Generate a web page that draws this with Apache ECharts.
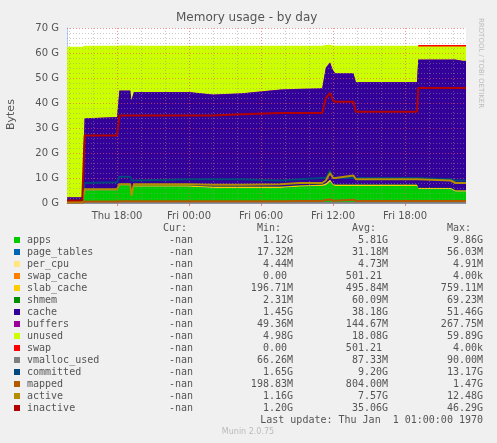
<!DOCTYPE html>
<html><head><meta charset="utf-8">
<script src="https://cdn.jsdelivr.net/npm/echarts@6/dist/echarts.min.js"></script>
<style>html,body{margin:0;background:#f0f0f0}#c{width:497px;height:443px}</style>
</head><body><div id="c"></div>
<script>
// hours since Thu 00:00
const hours = [13.83, 15.1, 15.3, 18.0, 18.2, 19.1, 19.2, 19.4, 24, 26, 28.4, 31.6, 33.2, 35.1, 35.4, 35.75, 36.0, 36.2, 37.7, 37.9, 43.0, 43.1, 45.8, 46.2, 46.8, 47.08];
// values in G
const apps = [0.3, 0.3, 5, 5, 7, 7, 2, 6.5, 6.5, 6, 6, 6, 6.5, 6.8, 7, 8.5, 7, 6.8, 6.8, 6.8, 6.8, 5.5, 5.5, 4.5, 4.5, 4.5];
const pageTables = [0.02, 0.02, 0.03, 0.03, 0.03, 0.03, 0.03, 0.03, 0.03, 0.03, 0.03, 0.03, 0.03, 0.03, 0.05, 0.05, 0.03, 0.03, 0.03, 0.03, 0.03, 0.03, 0.03, 0.03, 0.03, 0.03];
const perCpu = [0.005, 0.005, 0.005, 0.005, 0.005, 0.005, 0.005, 0.005, 0.005, 0.005, 0.005, 0.005, 0.005, 0.005, 0.005, 0.005, 0.005, 0.005, 0.005, 0.005, 0.005, 0.005, 0.005, 0.005, 0.005, 0.005];
const swapCache = [0, 0, 0, 0, 0, 0, 0, 0, 0, 0, 0, 0, 0, 0, 0, 0, 0, 0, 0, 0, 0, 0, 0, 0, 0, 0];
const slabCache = [0.2, 0.2, 0.5, 0.5, 0.6, 0.6, 0.6, 0.5, 0.5, 0.5, 0.5, 0.5, 0.5, 0.5, 0.7, 0.7, 0.6, 0.5, 0.5, 0.5, 0.5, 0.5, 0.5, 0.5, 0.5, 0.5];
const shmem = [0.01, 0.01, 0.06, 0.06, 0.06, 0.06, 0.06, 0.06, 0.06, 0.06, 0.06, 0.06, 0.06, 0.06, 0.06, 0.06, 0.06, 0.06, 0.06, 0.06, 0.06, 0.06, 0.06, 0.06, 0.06, 0.06];
const cache = [1.7, 1.7, 28.2, 28.7, 37.2, 37.2, 38.2, 37.2, 37.2, 36.7, 37.2, 38.7, 38.5, 38.4, 46.2, 46.7, 45.2, 44.4, 44.4, 40.9, 40.9, 51.2, 51.2, 52.2, 51.7, 51.7];
const buffers = [0.05, 0.05, 0.15, 0.15, 0.15, 0.15, 0.15, 0.15, 0.15, 0.15, 0.15, 0.15, 0.15, 0.15, 0.2, 0.25, 0.15, 0.15, 0.15, 0.15, 0.15, 0.15, 0.15, 0.15, 0.15, 0.15];
const unused = [60.2, 60.2, 29, 28.5, 18, 18, 22, 18.5, 18.5, 19.5, 19, 17.5, 17.2, 17, 9, 7, 10, 11, 11, 14.5, 14.5, 5.5, 5.5, 5.5, 6, 6];
const swap = [null, null, null, null, null, null, null, null, null, null, null, null, null, null, null, null, null, null, null, null, null, 0.00001, 0.00001, 0.00001, 0.00001, 0.00001];
const vmallocUsed = [0.07, 0.07, 0.09, 0.09, 0.09, 0.09, 0.09, 0.09, 0.09, 0.09, 0.09, 0.09, 0.09, 0.09, 0.09, 0.09, 0.09, 0.09, 0.09, 0.09, 0.09, 0.09, 0.09, 0.09, 0.09, 0.09];
const committed = [1, 1, 8, 8.3, 10.5, 10.5, 9, 9, 9.5, 9.5, 9.5, 9, 9.5, 10, 10, 13, 10, 10, 10, 10, 10, 9.5, 9.5, 9, 9, 9];
const mapped = [0.2, 0.2, 0.6, 0.6, 0.7, 0.7, 0.7, 0.7, 0.7, 0.7, 0.7, 0.7, 0.8, 0.8, 1.2, 1.4, 0.9, 0.9, 1.3, 0.8, 0.8, 0.8, 0.8, 0.8, 0.8, 0.8];
const active = [0.5, 0.5, 5.5, 5.5, 7.5, 7.5, 3, 7.5, 7.5, 7.3, 7.3, 7.5, 8, 8, 9, 12, 10, 10, 11, 9.5, 9.5, 9, 9, 8, 8, 8];
const inactive = [1, 1, 27, 27, 35, 35, 35, 35, 35, 35, 35.5, 36, 36, 36, 42, 44, 41, 40.5, 40.5, 36.5, 36.5, 46, 46, 46, 46, 46];

const xTicks = [18, 24, 30, 36, 42];
const xTickLabels = ["Thu 18:00", "Fri 00:00", "Fri 06:00", "Fri 12:00", "Fri 18:00"];
const xMinorLines = [14, 16, 20, 22, 26, 28, 32, 34, 38, 40, 44, 46];
const yTicks = [0, 10, 20, 30, 40, 50, 60, 70];
const yMinorLines = [2, 4, 6, 8, 12, 14, 16, 18, 22, 24, 26, 28, 32, 34, 36, 38, 42, 44, 46, 48, 52, 54, 56, 58, 62, 64, 66, 68];

const legendNames = ["apps", "page_tables", "per_cpu", "swap_cache", "slab_cache", "shmem", "cache", "buffers", "unused", "swap", "vmalloc_used", "committed", "mapped", "active", "inactive"];
const legendColors = ["#00cc00", "#0066b3", "#ffe680", "#ff8000", "#ffcc00", "#008f00", "#330099", "#990099", "#ccff00", "#ff0000", "#808080", "#00487d", "#b35a00", "#b38f00", "#b30000"];
const legendCur = ["-nan", "-nan", "-nan", "-nan", "-nan", "-nan", "-nan", "-nan", "-nan", "-nan", "-nan", "-nan", "-nan", "-nan", "-nan"];
const legendMin = ["1.12G", "17.32M", "4.44M", "0.00 ", "196.71M", "2.31M", "1.45G", "49.36M", "4.98G", "0.00 ", "66.26M", "1.65G", "198.83M", "1.16G", "1.20G"];
const legendAvg = ["5.81G", "31.18M", "4.73M", "501.21 ", "495.84M", "60.09M", "38.18G", "144.67M", "18.08G", "501.21 ", "87.33M", "9.20G", "804.00M", "7.57G", "35.06G"];
const legendMax = ["9.86G", "56.03M", "4.91M", "4.00k", "759.11M", "69.23M", "51.46G", "267.75M", "59.89G", "4.00k", "90.00M", "13.17G", "1.47G", "12.48G", "46.29G"];

const areaData = [apps, pageTables, perCpu, swapCache, slabCache, shmem, cache, buffers, unused];
const lineData = [vmallocUsed, committed, mapped, active, inactive];
const pairs = (arr) => arr.map((v, i) => [hours[i], v]);

// stacked tops (AREA + STACK), drawn top-down so lower areas cover upper ones
const running = hours.map(() => 0);
const stackedTops = areaData.map((arr) => arr.map((v, i) => (running[i] += v)));
const swapTop = swap.map((v, i) => (v == null ? null : running[i] + v));

const minorStyle = { color: "rgba(150,150,150,0.5)", type: [1, 2], width: 1 };
const majorStyle = { color: "rgba(235,90,90,0.65)", type: [1, 2], width: 1 };
const gridLines = [];
xMinorLines.forEach((x) => gridLines.push({ xAxis: x, lineStyle: minorStyle }));
yMinorLines.forEach((y) => gridLines.push({ yAxis: y, lineStyle: minorStyle }));
xTicks.forEach((x) => gridLines.push({ xAxis: x, lineStyle: majorStyle }));
yTicks.slice(1).forEach((y) => gridLines.push({ yAxis: y, lineStyle: majorStyle }));

const series = [];
stackedTops.forEach((arr, i) => {
  series.push({
    name: legendNames[i], type: "line", showSymbol: false, silent: true, z: 2,
    lineStyle: { width: 0 }, areaStyle: { color: legendColors[i], opacity: 1, origin: "start" },
    data: pairs(arr)
  });
});
series.reverse();
series.push({
  name: "swap", type: "line", showSymbol: false, z: 3,
  lineStyle: { width: 1.5, color: legendColors[9] }, data: pairs(swapTop),
  markLine: { silent: true, symbol: "none", label: { show: false }, animation: false, data: gridLines }
});
lineData.forEach((arr, i) => {
  series.push({
    name: legendNames[10 + i], type: "line", showSymbol: false, z: 5,
    lineStyle: { width: 2, color: legendColors[10 + i] }, data: pairs(arr)
  });
});

const mono = "DejaVu Sans Mono";
const graphic = [
  { type: "text", left: 176, top: 12, style: { text: "Memory usage - by day", font: "12px 'DejaVu Sans'", fill: "#555" } },
  { type: "text", x: 6, y: 130, rotation: Math.PI / 2, style: { text: "Bytes", font: "11px 'DejaVu Sans'", fill: "#555" } },
  { type: "text", x: 484, y: 18, rotation: -Math.PI / 2, style: { text: "RRDTOOL / TOBI OETIKER", font: "7px 'DejaVu Sans'", fill: "#bbb" } },
  { type: "text", x: 163, y: 223, style: { text: "Cur:", font: `10px '${mono}'`, fill: "#555" } },
  { type: "text", x: 257, y: 223, style: { text: "Min:", font: `10px '${mono}'`, fill: "#555" } },
  { type: "text", x: 352, y: 223, style: { text: "Avg:", font: `10px '${mono}'`, fill: "#555" } },
  { type: "text", x: 447, y: 223, style: { text: "Max:", font: `10px '${mono}'`, fill: "#555" } },
  { type: "text", x: 483, y: 415, style: { text: "Last update: Thu Jan  1 01:00:00 1970", font: `10px '${mono}'`, fill: "#555", align: "right" } },
  { type: "text", x: 248, y: 428, style: { text: "Munin 2.0.75", font: "8px 'DejaVu Sans'", fill: "#bbb", align: "center" } }
];
legendNames.forEach((name, i) => {
  const y = 240 + i * 12;
  graphic.push({ type: "rect", shape: { x: 14, y: y - 3, width: 6, height: 6 }, style: { fill: legendColors[i] } });
  graphic.push({ type: "text", x: 27, y: y, style: { text: name, font: `10px '${mono}'`, fill: "#555", verticalAlign: "middle" } });
  graphic.push({ type: "text", x: 193, y: y, style: { text: legendCur[i], font: `10px '${mono}'`, fill: "#555", align: "right", verticalAlign: "middle" } });
  graphic.push({ type: "text", x: 293, y: y, style: { text: legendMin[i], font: `10px '${mono}'`, fill: "#555", align: "right", verticalAlign: "middle" } });
  graphic.push({ type: "text", x: 388, y: y, style: { text: legendAvg[i], font: `10px '${mono}'`, fill: "#555", align: "right", verticalAlign: "middle" } });
  graphic.push({ type: "text", x: 483, y: y, style: { text: legendMax[i], font: `10px '${mono}'`, fill: "#555", align: "right", verticalAlign: "middle" } });
});

const chart = echarts.init(document.getElementById("c"), null, { renderer: "canvas" });
chart.setOption({
  animation: false,
  backgroundColor: "#f0f0f0",
  grid: { left: 67, right: 31, top: 28, bottom: 240, backgroundColor: "#fff", show: true, borderWidth: 0 },
  xAxis: {
    type: "value", min: hours[0], max: hours[hours.length - 1],
    axisLine: { lineStyle: { color: "#aaccff" } },
    axisTick: { show: true, customValues: xTicks, length: 3, lineStyle: { color: "#f08080" } },
    axisLabel: {
      color: "#555", fontSize: 10, fontFamily: "DejaVu Sans", customValues: xTicks,
      formatter: (v) => xTickLabels[xTicks.indexOf(v)]
    },
    splitLine: { show: false }
  },
  yAxis: {
    type: "value", min: yTicks[0], max: yTicks[yTicks.length - 1], interval: 10,
    axisLine: { show: true, lineStyle: { color: "#aaccff" } },
    axisTick: { show: false },
    axisLabel: { color: "#555", fontSize: 10, fontFamily: "DejaVu Sans", formatter: (v) => v + " G" },
    splitLine: { show: false }
  },
  series,
  graphic
});
</script></body></html>
